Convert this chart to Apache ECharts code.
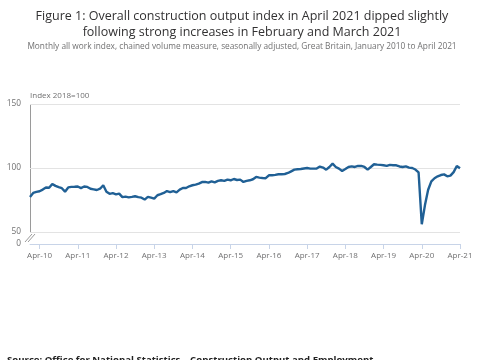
<!DOCTYPE html>
<html>
<head>
<meta charset="utf-8">
<script src="https://cdn.jsdelivr.net/npm/echarts@6/dist/echarts.min.js"></script>
<style>
html,body{margin:0;padding:0;background:#fff;}
#chart{width:485px;height:360px;}
</style>
</head>
<body>
<div id="chart"></div>
<script>
// Monthly index values, Jan 2010 .. Apr 2021 (2018=100)
const startYear = 2010;
const indexValues = [
  77.4, 80.5, 81.3, 81.8, 83.1, 84.7, 84.5, 87.5, 86.0, 85.0, 84.2, 81.5,
  84.8, 85.2, 85.3, 85.5, 84.3, 85.5, 85.2, 83.8, 83.3, 82.8, 83.8, 86.5,
  81.5, 79.8, 80.3, 79.4, 80.0, 77.2, 77.6, 77.0, 77.4, 77.9, 77.2, 76.8,
  75.3, 77.4, 76.8, 76.1, 78.7, 79.5, 80.5, 82.0, 81.2, 82.0, 81.0, 83.1,
  84.4, 84.4, 85.7, 86.5, 87.0, 87.8, 89.0, 89.1, 88.6, 89.6, 88.8, 89.9,
  90.4, 89.9, 90.9, 90.4, 91.4, 90.6, 90.9, 89.1, 89.9, 90.4, 91.2, 93.0,
  92.5, 92.2, 92.0, 94.3, 94.3, 94.6, 95.1, 95.1, 95.3, 96.1, 97.4, 98.7,
  99.0, 99.2, 99.6, 100.0, 99.5, 99.5, 99.6, 101.1, 100.3, 98.7, 100.8, 103.4,
  100.8, 99.5, 97.7, 99.2, 100.8, 101.3, 100.8, 101.6, 101.6, 100.8, 98.7, 100.8,
  102.9, 102.6, 102.4, 102.1, 101.6, 102.4, 102.1, 102.1, 101.2, 100.8, 101.3, 100.3,
  100.0, 98.8, 96.5, 56.0, 71.0, 83.0, 89.5, 92.0, 93.5, 94.5, 95.0, 93.5,
  94.0, 96.8, 101.6, 99.8
];
const monthNames = ['Jan','Feb','Mar','Apr','May','Jun','Jul','Aug','Sep','Oct','Nov','Dec'];
const categories = indexValues.map((v, i) =>
  monthNames[i % 12] + '-' + String((startYear + Math.floor(i / 12)) % 100).padStart(2, '0'));
const xTickLabels = ['Apr-10','Apr-11','Apr-12','Apr-13','Apr-14','Apr-15','Apr-16','Apr-17','Apr-18','Apr-19','Apr-20','Apr-21'];
const yTickValues = [50, 100, 150];
const yAxisBottom = 40.6;   // broken axis: bottom shown as 0
const yBottomLabel = '0';

const titleText = 'Figure 1: Overall construction output index in April 2021 dipped slightly\nfollowing strong increases in February and March 2021';
const subtitleText = 'Monthly all work index, chained volume measure, seasonally adjusted, Great Britain, January 2010 to April 2021';
const sourceText = 'Source: Office for National Statistics \u2013 Construction Output and Employment';

const isTick = (idx) => xTickLabels.indexOf(categories[idx]) !== -1;

const chart = echarts.init(document.getElementById('chart'));
chart.setOption({
  animation: false,
  backgroundColor: '#ffffff',
  textStyle: { fontFamily: 'Open Sans' },
  title: {
    text: titleText,
    subtext: subtitleText,
    left: 237,
    top: 3,
    itemGap: 3,
    textAlign: 'center',
    textStyle: { fontFamily: 'Open Sans', fontSize: 12.5, fontWeight: 'normal', color: '#323132', lineHeight: 16 },
    subtextStyle: { fontFamily: 'Open Sans', fontSize: 8.3, color: '#707071' }
  },
  grid: { left: 30, right: 25, top: 104, bottom: 116, containLabel: false },
  xAxis: {
    type: 'category',
    data: categories,
    boundaryGap: false,
    axisLine: { lineStyle: { color: '#c8d4e8', width: 1 } },
    axisTick: { interval: (idx) => isTick(idx), length: 5, lineStyle: { color: '#c8d4e8' } },
    axisLabel: { interval: (idx) => isTick(idx), color: '#707071', fontSize: 8, margin: 8 },
    splitLine: { show: false }
  },
  yAxis: {
    type: 'value',
    min: yAxisBottom,
    max: 150,
    name: 'Index 2018=100',
    nameLocation: 'end',
    nameGap: 4,
    nameTextStyle: { align: 'left', color: '#707071', fontSize: 8, padding: [0, 0, 0, 0] },
    axisLine: { show: false },
    axisTick: { show: false, customValues: yTickValues },
    axisLabel: {
      customValues: [yAxisBottom].concat(yTickValues),
      formatter: (v) => (v < yTickValues[0] ? yBottomLabel : String(v)),
      color: '#707071', fontSize: 8.3, margin: 9
    },
    splitLine: { lineStyle: { color: '#e3e3e3', width: 1 } }
  },
  series: [{
    type: 'line',
    data: indexValues,
    showSymbol: false,
    lineStyle: { color: '#206095', width: 2.4 },
    itemStyle: { color: '#206095' }
  }],
  graphic: [
    { type: 'line', shape: { x1: 30.5, y1: 104, x2: 30.5, y2: 233 }, style: { stroke: '#9a9a9a', lineWidth: 1 } },
    { type: 'line', shape: { x1: 25, y1: 242, x2: 32, y2: 234 }, style: { stroke: '#9a9a9a', lineWidth: 1 } },
    { type: 'line', shape: { x1: 28, y1: 242, x2: 35, y2: 234 }, style: { stroke: '#9a9a9a', lineWidth: 1 } },
    { type: 'text', left: 7, top: 355.5, style: { text: sourceText, font: 'bold 9.6px "Open Sans"', fill: '#222222' } }
  ]
});
</script>
</body>
</html>
